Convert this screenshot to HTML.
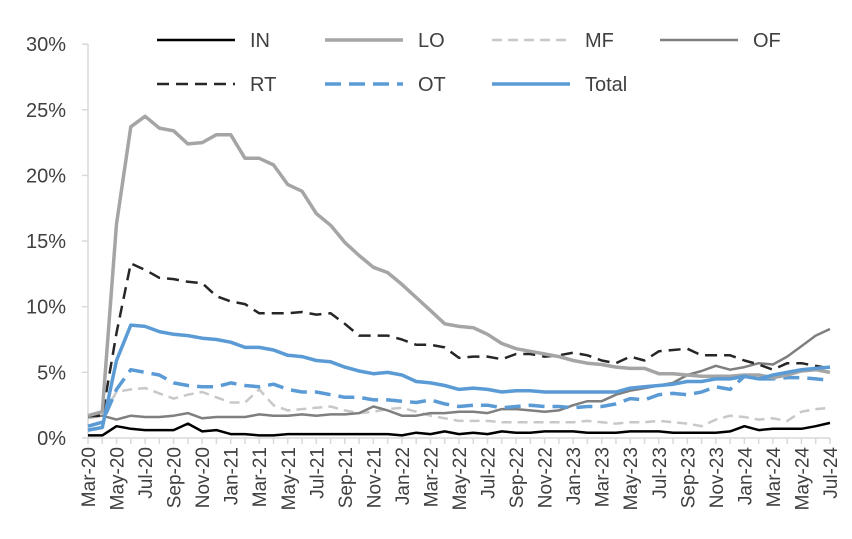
<!DOCTYPE html>
<html><head><meta charset="utf-8"><style>
body{margin:0;background:#fff;}
svg text{font-family:"Liberation Sans",Arial,sans-serif;fill:#404040;}
</style></head><body>
<svg id="c" width="852" height="534" xmlns="http://www.w3.org/2000/svg"></svg>
<script>
const s=document.getElementById('c');
const X0=88,X1=830,Y0=438,K=13.13;
let h='';
// y axis
h+=`<line x1="${X0}" y1="${Y0}" x2="${X0}" y2="44" stroke="#d9d9d9" stroke-width="1.5"/>`;
for(let i=0;i<=6;i++){const y=Y0-i*5*K;h+=`<line x1="${X0-6}" y1="${y}" x2="${X0}" y2="${y}" stroke="#d9d9d9" stroke-width="1.5"/><text x="66" y="${y+7}" font-size="20" text-anchor="end">${i*5}%</text>`;}
h+=`<line x1="${X0}" y1="${Y0}" x2="${X1}" y2="${Y0}" stroke="#d9d9d9" stroke-width="1.5"/>`;
const mon=['Jan','Feb','Mar','Apr','May','Jun','Jul','Aug','Sep','Oct','Nov','Dec'];
const dx=(X1-X0)/52;
for(let i=0;i<=52;i++){const x=X0+i*dx;h+=`<line x1="${x}" y1="${Y0}" x2="${x}" y2="${Y0+6}" stroke="#d9d9d9" stroke-width="1.5"/>`;
if(i%2==0){const m=(2+i)%12,yr=20+Math.floor((2+i)/12);h+=`<text transform="translate(${x+7},447) rotate(-90)" font-size="19" text-anchor="end">${mon[m]}-${yr}</text>`;}}
const D={
LO:[1.7,2.0,16.3,23.7,24.5,23.6,23.4,22.4,22.5,23.1,23.1,21.3,21.3,20.8,19.3,18.8,17.1,16.2,14.9,13.9,13.0,12.6,11.7,10.7,9.7,8.7,8.5,8.4,7.9,7.2,6.8,6.6,6.4,6.2,5.9,5.7,5.6,5.4,5.3,5.3,4.9,4.9,4.8,4.7,4.7,4.7,4.8,4.8,4.6,4.8,5.1,5.2,5.0],
RT:[1.7,1.7,8.0,13.3,12.8,12.2,12.1,11.9,11.8,10.8,10.4,10.2,9.5,9.5,9.5,9.6,9.4,9.5,8.7,7.8,7.8,7.8,7.5,7.1,7.1,6.9,6.1,6.2,6.2,6.0,6.4,6.4,6.2,6.3,6.5,6.3,5.9,5.7,6.2,5.9,6.6,6.7,6.8,6.3,6.3,6.3,5.9,5.6,5.2,5.7,5.7,5.5,5.3],
Total:[0.6,0.8,5.9,8.6,8.5,8.1,7.9,7.8,7.6,7.5,7.3,6.9,6.9,6.7,6.3,6.2,5.9,5.8,5.4,5.1,4.9,5.0,4.8,4.3,4.2,4.0,3.7,3.8,3.7,3.5,3.6,3.6,3.5,3.5,3.5,3.5,3.5,3.5,3.8,3.9,4.0,4.1,4.3,4.3,4.5,4.5,4.7,4.5,4.8,5.0,5.2,5.3,5.4],
OT:[0.9,1.2,3.7,5.2,5.0,4.8,4.2,4.0,3.9,3.9,4.2,4.0,3.9,4.1,3.7,3.5,3.5,3.3,3.1,3.1,2.9,2.9,2.8,2.7,2.9,2.6,2.4,2.5,2.5,2.3,2.4,2.5,2.4,2.4,2.3,2.4,2.4,2.6,3.0,2.9,3.3,3.4,3.3,3.5,3.9,3.7,4.7,4.5,4.5,4.6,4.6,4.5,4.4],
MF:[1.5,1.7,3.5,3.7,3.8,3.4,3.0,3.3,3.5,3.1,2.7,2.7,3.7,2.5,2.1,2.2,2.3,2.4,2.1,1.9,2.0,2.2,2.3,2.0,1.7,1.5,1.3,1.3,1.3,1.2,1.2,1.2,1.2,1.2,1.2,1.3,1.2,1.1,1.2,1.2,1.3,1.2,1.1,0.9,1.4,1.7,1.6,1.4,1.5,1.3,2.0,2.2,2.3],
OF:[1.6,1.7,1.4,1.7,1.6,1.6,1.7,1.9,1.5,1.6,1.6,1.6,1.8,1.7,1.7,1.8,1.7,1.8,1.8,1.9,2.4,2.1,1.7,1.7,1.9,1.9,2.0,2.0,1.9,2.2,2.2,2.1,2.0,2.1,2.5,2.8,2.8,3.3,3.6,3.8,4.0,4.2,4.8,5.1,5.5,5.2,5.4,5.7,5.6,6.2,7.0,7.8,8.3],
IN:[0.2,0.2,0.9,0.7,0.6,0.6,0.6,1.1,0.5,0.6,0.3,0.3,0.2,0.2,0.3,0.3,0.3,0.3,0.3,0.3,0.3,0.3,0.2,0.4,0.3,0.5,0.3,0.4,0.3,0.5,0.4,0.4,0.5,0.5,0.5,0.4,0.4,0.4,0.5,0.5,0.5,0.4,0.4,0.4,0.4,0.5,0.9,0.6,0.7,0.7,0.7,0.9,1.15]};
const st={IN:['#000','',2.5],LO:['#a5a5a5','',3.5],MF:['#c8c8c8','10 6',2.5],OF:['#7f7f7f','',2.5],RT:['#262626','12 7',2.5],OT:['#5b9bd5','16 8',3.5],Total:['#5b9bd5','',3.5]};
const order=['MF','OF','IN','RT','OT','LO','Total'];
for(const k of order){const a=D[k];const n=a.length;
const p=a.map((v,i)=>`${(X0+i*(X1-X0)/(n-1)).toFixed(1)},${(Y0-v*K).toFixed(1)}`).join(' ');
h+=`<polyline points="${p}" fill="none" stroke="${st[k][0]}" stroke-width="${st[k][2]}" stroke-dasharray="${st[k][1]}" stroke-linejoin="round"/>`;}
const L=[['IN',157,40],['LO',325,40],['MF',492,40],['OF',660,40],['RT',157,84],['OT',325,84],['Total',492,84]];
for(const [k,x,y] of L){h+=`<line x1="${x}" y1="${y}" x2="${x+78}" y2="${y}" stroke="${st[k][0]}" stroke-width="${st[k][2]}" stroke-dasharray="${st[k][1]}"/><text x="${x+93}" y="${y+7}" font-size="20">${k}</text>`;}
s.innerHTML=h;
</script>
</body></html>
